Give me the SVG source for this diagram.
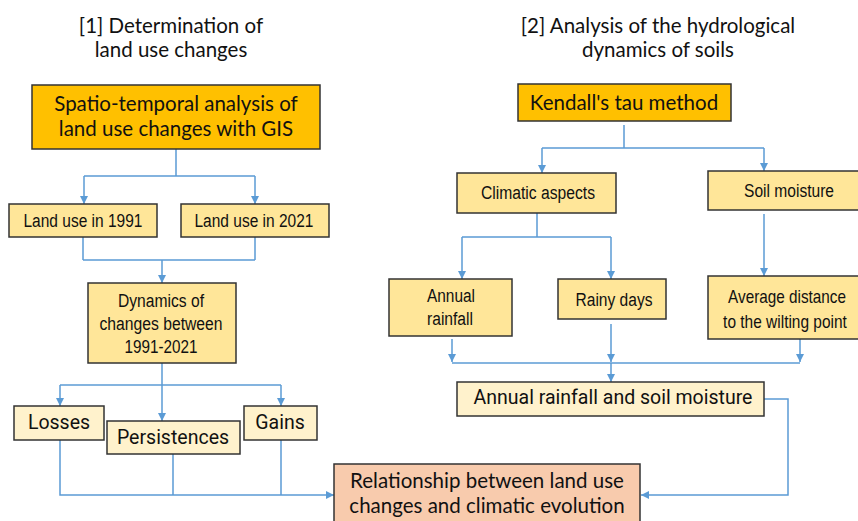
<svg xmlns="http://www.w3.org/2000/svg" width="858" height="521" viewBox="0 0 858 521">
<style>
.title{font-family:Lato,"Open Sans","Liberation Sans",sans-serif;font-size:20.5px;fill:#111;text-anchor:middle}
.big{font-family:Lato,"Open Sans","Liberation Sans",sans-serif;font-size:20.5px;fill:#111;text-anchor:middle}
.nar{font-family:"Liberation Sans",Arial,sans-serif;font-size:18px;fill:#111;text-anchor:middle}
.din{font-family:Roboto,"Liberation Sans",sans-serif;font-size:19.5px;fill:#111;text-anchor:middle}
.box{stroke:#333;stroke-width:1.5}
.or{fill:#FFC000}.ye{fill:#FFE699}.pa{fill:#FFF2CC}.pe{fill:#F8CBAD}
.c{fill:none;stroke:#5B9BD5;stroke-width:1.5}
</style>
<defs>
<marker id="ar" markerUnits="userSpaceOnUse" markerWidth="8" markerHeight="8" refX="8" refY="4" orient="auto">
<path d="M0,0 L8,4 L0,8 z" fill="#5B9BD5"/>
</marker>
</defs>
<text class="title" x="171" y="33">[1] Determination of</text>
<text class="title" x="171" y="57">land use changes</text>
<text class="title" x="658" y="33">[2] Analysis of the hydrological</text>
<text class="title" x="658" y="57">dynamics of soils</text>
<g id="connectors">
<path class="c" d="M176,149 V176 M84,176 H255"/>
<path class="c" d="M84,176 V204" marker-end="url(#ar)"/>
<path class="c" d="M255,176 V204" marker-end="url(#ar)"/>
<path class="c" d="M83,237 V260 M255,237 V260 M83,260 H255"/>
<path class="c" d="M162,260 V283" marker-end="url(#ar)"/>
<path class="c" d="M162,363 V421" marker-end="url(#ar)"/>
<path class="c" d="M60,385 H281"/>
<path class="c" d="M60,385 V406" marker-end="url(#ar)"/>
<path class="c" d="M281,385 V406" marker-end="url(#ar)"/>
<path class="c" d="M173,454 V495 M281,440 V495"/>
<path class="c" d="M60,440 V495 H334" marker-end="url(#ar)"/>
<path class="c" d="M624,125 V148 M542,148 H764"/>
<path class="c" d="M542,148 V173" marker-end="url(#ar)"/>
<path class="c" d="M764,148 V171" marker-end="url(#ar)"/>
<path class="c" d="M537,213 V237 M462,237 H611"/>
<path class="c" d="M462,237 V279" marker-end="url(#ar)"/>
<path class="c" d="M611,237 V279" marker-end="url(#ar)"/>
<path class="c" d="M764,214 V276" marker-end="url(#ar)"/>
<path class="c" d="M452,339 V362" marker-end="url(#ar)"/>
<path class="c" d="M611,324 V362" marker-end="url(#ar)"/>
<path class="c" d="M800,339 V362" marker-end="url(#ar)"/>
<path class="c" d="M452,363 H800"/>
<path class="c" d="M611,363 V382" marker-end="url(#ar)"/>
<path class="c" d="M764,399 H788 V495 H641" marker-end="url(#ar)"/>
</g>
<g id="spatio"><rect class="box or" x="32" y="85" width="288" height="64"/>
<text class="big" x="176" y="111">Spatio-temporal analysis of</text>
<text class="big" x="176" y="136">land use changes with GIS</text></g>
<g id="lu1991"><rect class="box ye" x="9" y="204" width="148" height="33"/>
<text class="nar" x="83" y="227" textLength="119" lengthAdjust="spacingAndGlyphs">Land use in 1991</text></g>
<g id="lu2021"><rect class="box ye" x="181" y="204" width="148" height="33"/>
<text class="nar" x="254" y="227" textLength="119" lengthAdjust="spacingAndGlyphs">Land use in 2021</text></g>
<g id="dynamics"><rect class="box ye" x="88" y="283" width="148" height="80"/>
<text class="nar" x="161" y="307" textLength="86" lengthAdjust="spacingAndGlyphs">Dynamics of</text>
<text class="nar" x="161" y="330" textLength="123" lengthAdjust="spacingAndGlyphs">changes between</text>
<text class="nar" x="161" y="353" textLength="73" lengthAdjust="spacingAndGlyphs">1991-2021</text></g>
<g id="losses"><rect class="box pa" x="14" y="406" width="90" height="34"/>
<text class="din" x="59" y="429">Losses</text></g>
<g id="persistences"><rect class="box pa" x="107" y="421" width="133" height="33"/>
<text class="din" x="173" y="444">Persistences</text></g>
<g id="gains"><rect class="box pa" x="244" y="406" width="73" height="34"/>
<text class="din" x="280" y="429">Gains</text></g>
<g id="relationship"><rect class="box pe" x="334" y="464" width="306" height="62"/>
<text class="big" x="487" y="488">Relationship between land use</text>
<text class="big" x="487" y="513">changes and climatic evolution</text></g>
<g id="kendall"><rect class="box or" x="518" y="84" width="213" height="37"/>
<text class="big" x="624" y="110">Kendall's tau method</text></g>
<g id="climatic"><rect class="box ye" x="457" y="173" width="159" height="40"/>
<text class="nar" x="538" y="199" textLength="114" lengthAdjust="spacingAndGlyphs">Climatic aspects</text></g>
<g id="soil"><rect class="box ye" x="708" y="171" width="152" height="39"/>
<text class="nar" x="789" y="197" textLength="90" lengthAdjust="spacingAndGlyphs">Soil moisture</text></g>
<g id="annualrainfall"><rect class="box ye" x="389" y="279" width="123" height="57"/>
<text class="nar" x="451" y="302" textLength="48" lengthAdjust="spacingAndGlyphs">Annual</text>
<text class="nar" x="450" y="325" textLength="46" lengthAdjust="spacingAndGlyphs">rainfall</text></g>
<g id="rainy"><rect class="box ye" x="558" y="279" width="108" height="40"/>
<text class="nar" x="614" y="306" textLength="77" lengthAdjust="spacingAndGlyphs">Rainy days</text></g>
<g id="average"><rect class="box ye" x="708" y="276" width="152" height="63"/>
<text class="nar" transform="translate(787,303) scale(0.85,1)">Average distance</text>
<text class="nar" transform="translate(785,328) scale(0.86,1)">to the wilting point</text></g>
<g id="annualsoil"><rect class="box pa" x="457" y="382" width="307" height="34"/>
<text class="din" x="613" y="404">Annual rainfall and soil moisture</text></g>
</svg>
